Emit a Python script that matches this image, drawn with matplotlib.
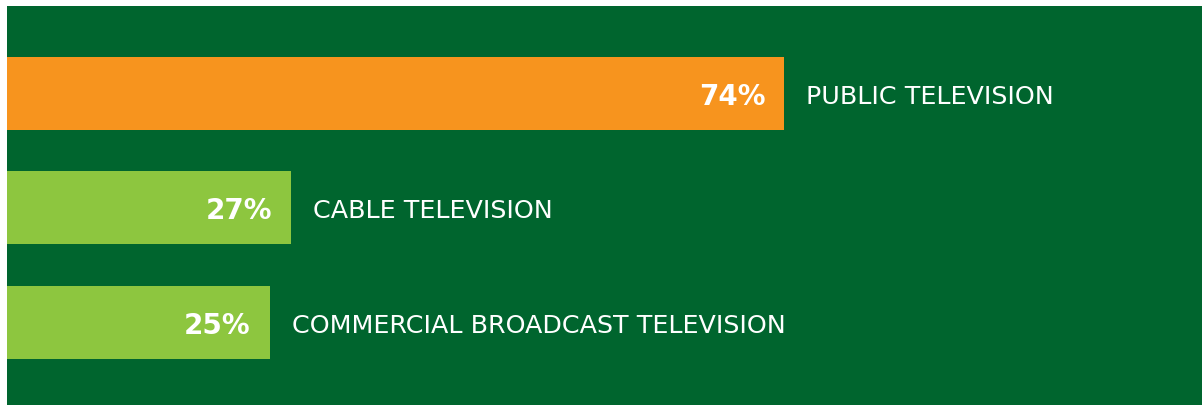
import matplotlib.pyplot as plt

categories = ['PUBLIC TELEVISION', 'CABLE TELEVISION', 'COMMERCIAL BROADCAST TELEVISION']
values = [74, 27, 25]
value_labels = ['74%', '27%', '25%']
colors = ['#F7941E', '#8DC63F', '#8DC63F']

bg = '#00652E'

fig = plt.figure(figsize=(12.02, 4.06), dpi=100)
fig.patch.set_facecolor('white')
ax = fig.add_axes([7 / 1202, 0, 1 - 7 / 1202, 399 / 406])
ax.set_facecolor(bg)

ypos = list(range(len(values)))
ax.barh(ypos, values, height=0.6376, color=colors, left=0)

for y, v, lab, cat in zip(ypos, values, value_labels, categories):
    ax.annotate(lab, (v, y), xytext=(-13.5, -1.5), textcoords='offset points',
                ha='right', va='center', color='white', fontsize=20,
                fontweight='bold', family=['DejaVu Sans'])
    ax.annotate(cat, (v, y), xytext=(16, -1.5), textcoords='offset points',
                ha='left', va='center', color='white', fontsize=18.3,
                family=['DejaVu Sans'])

ax.set_xlim(0, 113.8)
ax.set_ylim(2 + 0.7205, -0.764)
ax.set_xticks([])
ax.set_yticks([])
for s in ax.spines.values():
    s.set_visible(False)

fig.savefig('out.png', dpi=100, facecolor=fig.get_facecolor())
